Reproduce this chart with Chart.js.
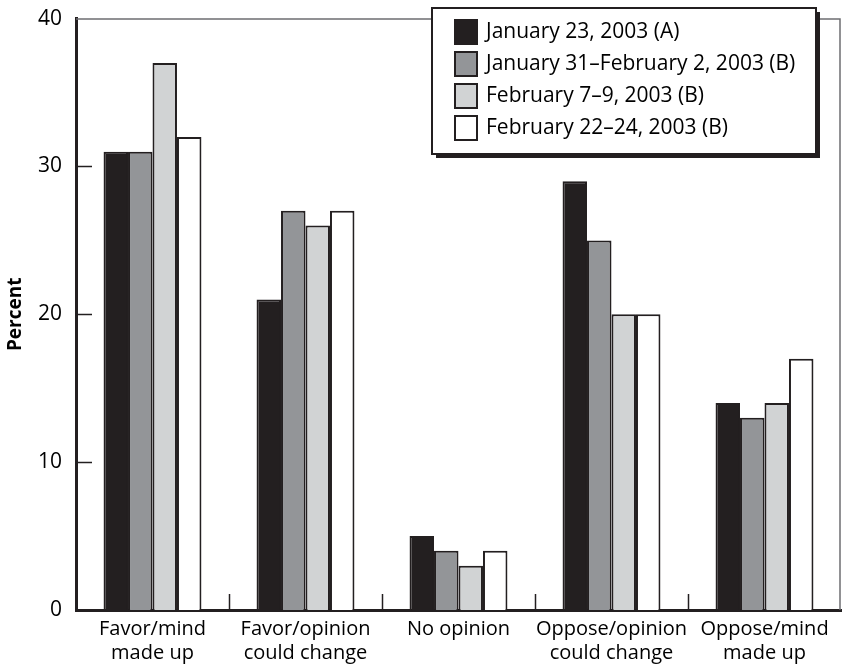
<!DOCTYPE html>
<html>
<head>
<meta charset="utf-8">
<script src="https://cdn.jsdelivr.net/npm/chart.js@4.4.0/dist/chart.umd.min.js"></script>
<style>
  html, body { margin: 0; padding: 0; background: #fff; }
  #wrap { width: 843px; height: 665px; position: relative; }
</style>
</head>
<body>
<div id="wrap"><canvas id="chart" width="843" height="665"></canvas></div>
<script>
// ===== DATA =====
const categories = [
    ['Favor/mind', 'made up'],
    ['Favor/opinion', 'could change'],
    ['No opinion'],
    ['Oppose/opinion', 'could change'],
    ['Oppose/mind', 'made up']
];
const seriesNames = [
    'January 23, 2003 (A)',
    'January 31\u2013February 2, 2003 (B)',
    'February 7\u20139, 2003 (B)',
    'February 22\u201324, 2003 (B)'
];
const jan23 = [31, 21, 5, 29, 14];
const jan31 = [31, 27, 4, 25, 13];
const feb7 = [37, 26, 3, 20, 14];
const feb22 = [32, 27, 4, 20, 17];
const yTicks = [0, 10, 20, 30, 40];

const fills = ['#231f20', '#939598', '#d1d3d4', '#ffffff'];
const ink = '#231f20';
const FONT = '"Open Sans", "Noto Sans", sans-serif';

// frame, inside ticks and the boxed legend
const decorPlugin = {
    id: 'decor',
    afterDraw(chart) {
        const ctx = chart.ctx;
        const a = chart.chartArea;
        const xs = chart.scales.x, ys = chart.scales.y;
        ctx.save();

        // thin top and right frame
        ctx.strokeStyle = '#6d6e71';
        ctx.lineWidth = 1.5;
        ctx.beginPath();
        ctx.moveTo(a.left, a.top + 0.5);
        ctx.lineTo(a.right - 1, a.top + 0.5);
        ctx.lineTo(a.right - 1, a.bottom);
        ctx.stroke();

        // y ticks pointing into the plot
        ctx.strokeStyle = ink;
        ctx.lineWidth = 1.5;
        yTicks.forEach(v => {
            if (v === 0 || v === 40) return;
            const y = Math.round(ys.getPixelForValue(v)) + 0.5;
            ctx.beginPath();
            ctx.moveTo(a.left, y);
            ctx.lineTo(a.left + 16, y);
            ctx.stroke();
        });

        // category separators pointing up from the x axis
        for (let i = 1; i < categories.length; i++) {
            const x = Math.round((xs.getPixelForValue(i - 1) + xs.getPixelForValue(i)) / 2) + 0.5;
            ctx.beginPath();
            ctx.moveTo(x, a.bottom);
            ctx.lineTo(x, a.bottom - 16);
            ctx.stroke();
        }

        // legend box with drop shadow
        const bx = 432, by = 8, bw = 384, bh = 146;
        ctx.fillStyle = ink;
        ctx.fillRect(bx + 4, by + 4, bw, bh);
        ctx.fillStyle = '#fff';
        ctx.fillRect(bx, by, bw, bh);
        ctx.strokeStyle = ink;
        ctx.lineWidth = 2;
        ctx.strokeRect(bx, by, bw, bh);

        ctx.font = '21px ' + FONT;
        ctx.textBaseline = 'middle';
        chart.data.datasets.forEach((ds, i) => {
            const cy = 32 + i * 32;
            ctx.fillStyle = ds.backgroundColor;
            ctx.fillRect(455, cy - 12, 22, 24);
            ctx.strokeStyle = ink;
            ctx.lineWidth = 2;
            ctx.strokeRect(455, cy - 12, 22, 24);
            ctx.fillStyle = '#000';
            ctx.fillText(ds.label, 486, cy);
        });
        ctx.restore();
    }
};

const seriesValues = [jan23, jan31, feb7, feb22];

new Chart(document.getElementById('chart').getContext('2d'), {
    type: 'bar',
    data: {
        labels: categories,
        datasets: seriesValues.map((vals, i) => ({
            label: seriesNames[i],
            data: vals,
            backgroundColor: fills[i],
            borderColor: ink,
            borderWidth: 2,
            borderSkipped: 'bottom',
            categoryPercentage: 0.64,
            barPercentage: 1.0
        }))
    },
    options: {
        responsive: false,
        animation: false,
        layout: { padding: { top: 16, right: 2, left: 0, bottom: 0 } },
        plugins: {
            legend: { display: false },
            tooltip: { enabled: false }
        },
        scales: {
            x: {
                grid: { display: false },
                border: { color: ink, width: 3 },
                ticks: {
                    color: '#000',
                    font: { family: FONT, size: 20, lineHeight: 1.2 },
                    padding: -1,
                    maxRotation: 0,
                    autoSkip: false
                },
                afterFit: s => { s.height = 55; }
            },
            y: {
                min: 0,
                max: 40,
                afterBuildTicks: s => { s.ticks = yTicks.map(v => ({ value: v })); },
                grid: { display: false },
                border: { color: ink, width: 3 },
                ticks: {
                    color: '#000',
                    font: { family: FONT, size: 21 },
                    padding: 6
                },
                title: {
                    display: true,
                    text: 'Percent',
                    color: '#000',
                    font: { family: FONT, size: 19, weight: 'bold' },
                    padding: { top: 4, bottom: 8 }
                },
                afterFit: s => { s.width = 76; }
            }
        }
    },
    plugins: [decorPlugin]
});
</script>
</body>
</html>
